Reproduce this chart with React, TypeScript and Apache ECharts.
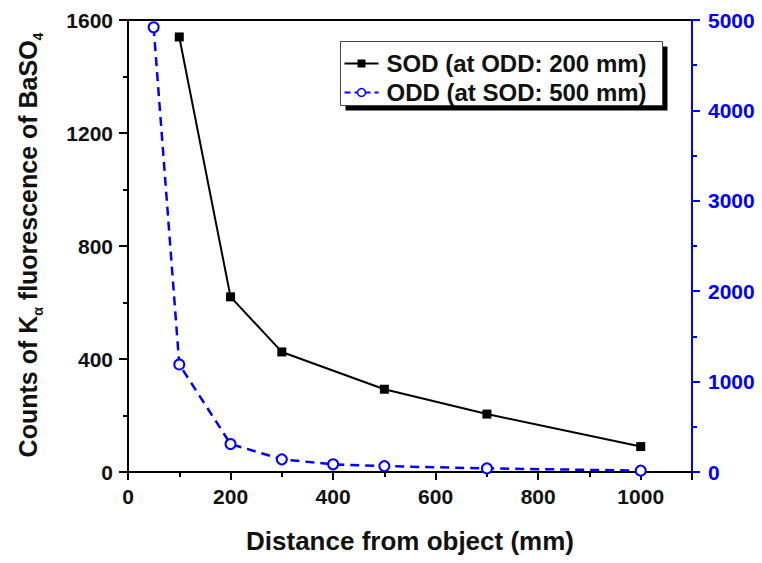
import React, { useEffect, useRef } from "react";
import * as echarts from "echarts";

const sodDistances = [100, 200, 300, 500, 700, 1000];
const sodCounts = [1540, 620, 425, 293, 205, 90];
const oddDistances = [50, 100, 200, 300, 400, 500, 700, 1000];
const oddCounts = [4920, 1190, 310, 140, 85, 65, 40, 15];
const legendLabels = ["SOD (at ODD: 200 mm)", "ODD (at SOD: 500 mm)"];
const xTitle = "Distance from object (mm)";

const FONT = "Arial, 'Liberation Sans', Helvetica, sans-serif";
const BLUE = "#0000ff";
const plain = (v: number) => String(v);

export default function App() {
  const ref = useRef<HTMLDivElement>(null);
  useEffect(() => {
    if (!ref.current) return;
    const chart = echarts.init(ref.current, null, { renderer: "svg" });
    const sodData = sodDistances.map((d, i) => [d, sodCounts[i]]);
    const oddData = oddDistances.map((d, i) => [d, oddCounts[i]]);
    chart.setOption({
      animation: false,
      backgroundColor: "#ffffff",
      grid: {
        left: 128,
        right: 70,
        top: 20,
        bottom: 91,
        show: true,
        borderColor: "#000",
        borderWidth: 2,
        backgroundColor: "transparent",
      },
      xAxis: {
        type: "value",
        min: 0,
        max: 1100,
        interval: 200,
        name: xTitle,
        nameLocation: "middle",
        nameGap: 56,
        nameTextStyle: { fontFamily: FONT, fontWeight: "bold", fontSize: 26, color: "#111" },
        axisLine: { show: true, onZero: false, lineStyle: { color: "#000", width: 2 } },
        axisTick: { show: true, inside: false, length: 8, lineStyle: { color: "#000", width: 2 } },
        minorTick: { show: true, splitNumber: 2, length: 5, lineStyle: { color: "#000", width: 2 } },
        splitLine: { show: false },
        axisLabel: {
          showMaxLabel: false,
          margin: 14,
          formatter: plain,
          fontFamily: FONT,
          fontWeight: "bold",
          fontSize: 21,
          color: "#111",
        },
      },
      yAxis: [
        {
          type: "value",
          min: 0,
          max: 1600,
          interval: 400,
          position: "left",
          axisLine: { show: true, lineStyle: { color: "#000", width: 2 } },
          axisTick: { show: true, inside: false, length: 9, lineStyle: { color: "#000", width: 2 } },
          minorTick: { show: true, splitNumber: 2, length: 5, lineStyle: { color: "#000", width: 2 } },
          splitLine: { show: false },
          axisLabel: {
            margin: 15,
            formatter: plain,
            fontFamily: FONT,
            fontWeight: "bold",
            fontSize: 21,
            color: "#111",
          },
        },
        {
          type: "value",
          min: 0,
          max: 5000,
          interval: 1000,
          position: "right",
          axisLine: { show: true, lineStyle: { color: BLUE, width: 2 } },
          axisTick: { show: true, inside: false, length: 8, lineStyle: { color: BLUE, width: 2 } },
          minorTick: { show: true, splitNumber: 2, length: 5, lineStyle: { color: BLUE, width: 2 } },
          splitLine: { show: false },
          axisLabel: {
            margin: 16,
            formatter: plain,
            fontFamily: FONT,
            fontWeight: "bold",
            fontSize: 21,
            color: BLUE,
          },
        },
      ],
      series: [
        {
          name: legendLabels[0],
          type: "line",
          yAxisIndex: 0,
          data: sodData,
          symbol: "rect",
          symbolSize: 9,
          itemStyle: { color: "#000" },
          lineStyle: { color: "#000", width: 2 },
          z: 3,
        },
        {
          name: legendLabels[1],
          type: "line",
          yAxisIndex: 1,
          data: oddData,
          symbol: "emptyCircle",
          symbolSize: 10,
          itemStyle: { color: BLUE, borderWidth: 1.5 },
          lineStyle: { color: BLUE, width: 2.5, type: [9, 6] },
          z: 2,
        },
      ],
      graphic: [
        {
          type: "text",
          x: 28,
          y: 245,
          rotation: Math.PI / 2,
          style: {
            text: "{m|Counts of K}{s|α}{m| fluorescence of BaSO}{s|4}",
            align: "center",
            verticalAlign: "middle",
            fill: "#111",
            rich: {
              m: {
                fontFamily: FONT,
                fontWeight: "bold",
                fontSize: 25,
                lineHeight: 34,
                verticalAlign: "middle",
                fill: "#111",
              },
              s: {
                fontFamily: FONT,
                fontWeight: "bold",
                fontSize: 14,
                lineHeight: 14,
                verticalAlign: "bottom",
                fill: "#111",
              },
            },
          },
        },
        {
          type: "group",
          left: 340,
          top: 41,
          children: [
            { type: "rect", shape: { x: 5, y: 5, width: 322, height: 64 }, style: { fill: "#000" } },
            {
              type: "rect",
              shape: { x: 0, y: 0, width: 322, height: 64 },
              style: { fill: "#fff", stroke: "#444", lineWidth: 1 },
            },
            { type: "line", shape: { x1: 4, y1: 22, x2: 38, y2: 22 }, style: { stroke: "#000", lineWidth: 2 } },
            { type: "rect", shape: { x: 17, y: 18, width: 8, height: 8 }, style: { fill: "#000" } },
            {
              type: "text",
              x: 46,
              y: 22,
              style: {
                text: legendLabels[0],
                fontFamily: FONT,
                fontWeight: "bold",
                fontSize: 24,
                fill: "#111",
                verticalAlign: "middle",
              },
            },
            {
              type: "line",
              shape: { x1: 4, y1: 51, x2: 38, y2: 51 },
              style: { stroke: BLUE, lineWidth: 2, lineDash: [6, 4] },
            },
            {
              type: "circle",
              shape: { cx: 21, cy: 51, r: 4 },
              style: { fill: "#fff", stroke: BLUE, lineWidth: 1.5 },
            },
            {
              type: "text",
              x: 46,
              y: 51,
              style: {
                text: legendLabels[1],
                fontFamily: FONT,
                fontWeight: "bold",
                fontSize: 24,
                fill: "#111",
                verticalAlign: "middle",
              },
            },
          ],
        },
      ],
    });
    return () => chart.dispose();
  }, []);
  return <div ref={ref} style={{ width: 762, height: 563, position: "absolute", left: 0, top: 0 }} />;
}
